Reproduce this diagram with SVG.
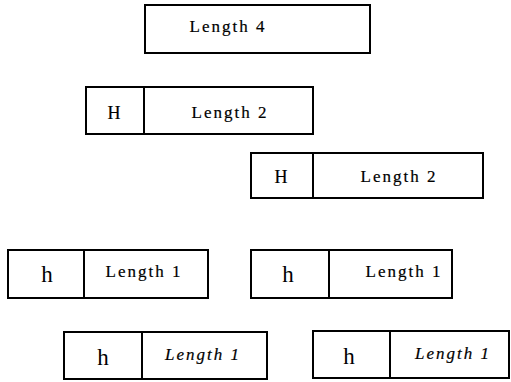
<svg xmlns="http://www.w3.org/2000/svg" width="511" height="382" viewBox="0 0 511 382">
  <style>
    .box { fill: #fff; stroke: #000; stroke-width: 2; }
    .div { stroke: #000; stroke-width: 2; }
    text { font-family: "Liberation Serif", serif; fill: #000; stroke: #000; stroke-width: 0.2; text-anchor: middle; }
    .lbl { font-size: 17px; letter-spacing: 2px; }
    .ital { font-style: italic; }
    .hdr { font-size: 18px; }
    .hsmall { font-size: 23px; stroke-width: 0; }
  </style>
  <rect width="511" height="382" fill="#fff"/>

  <g id="block-length4">
    <rect class="box" x="145" y="5" width="225" height="48"/>
    <text class="lbl" x="228" y="32">Length 4</text>
  </g>

  <g id="block-H-length2-a">
    <rect class="box" x="86" y="87" width="227" height="47"/>
    <line class="div" x1="144" y1="87" x2="144" y2="134"/>
    <text class="hdr" x="114" y="119">H</text>
    <text class="lbl" x="230" y="118">Length 2</text>
  </g>

  <g id="block-H-length2-b">
    <rect class="box" x="251" y="153" width="232" height="45"/>
    <line class="div" x1="313" y1="153" x2="313" y2="198"/>
    <text class="hdr" x="281" y="183">H</text>
    <text class="lbl" x="399" y="182">Length 2</text>
  </g>

  <g id="block-h-length1-a">
    <rect class="box" x="8" y="250" width="200" height="48"/>
    <line class="div" x1="84" y1="250" x2="84" y2="298"/>
    <text class="hsmall" x="47" y="282">h</text>
    <text class="lbl" x="144" y="277">Length 1</text>
  </g>

  <g id="block-h-length1-b">
    <rect class="box" x="251" y="250" width="201" height="48"/>
    <line class="div" x1="329" y1="250" x2="329" y2="298"/>
    <text class="hsmall" x="288" y="282">h</text>
    <text class="lbl" x="404" y="277">Length 1</text>
  </g>

  <g id="block-h-length1-c">
    <rect class="box" x="64" y="332" width="203" height="47"/>
    <line class="div" x1="142" y1="332" x2="142" y2="379"/>
    <text class="hsmall" x="103" y="365">h</text>
    <text class="lbl ital" x="203" y="360">Length 1</text>
  </g>

  <g id="block-h-length1-d">
    <rect class="box" x="313" y="331" width="196" height="47"/>
    <line class="div" x1="390" y1="331" x2="390" y2="378"/>
    <text class="hsmall" x="349" y="364">h</text>
    <text class="lbl ital" x="453" y="359">Length 1</text>
  </g>
</svg>
